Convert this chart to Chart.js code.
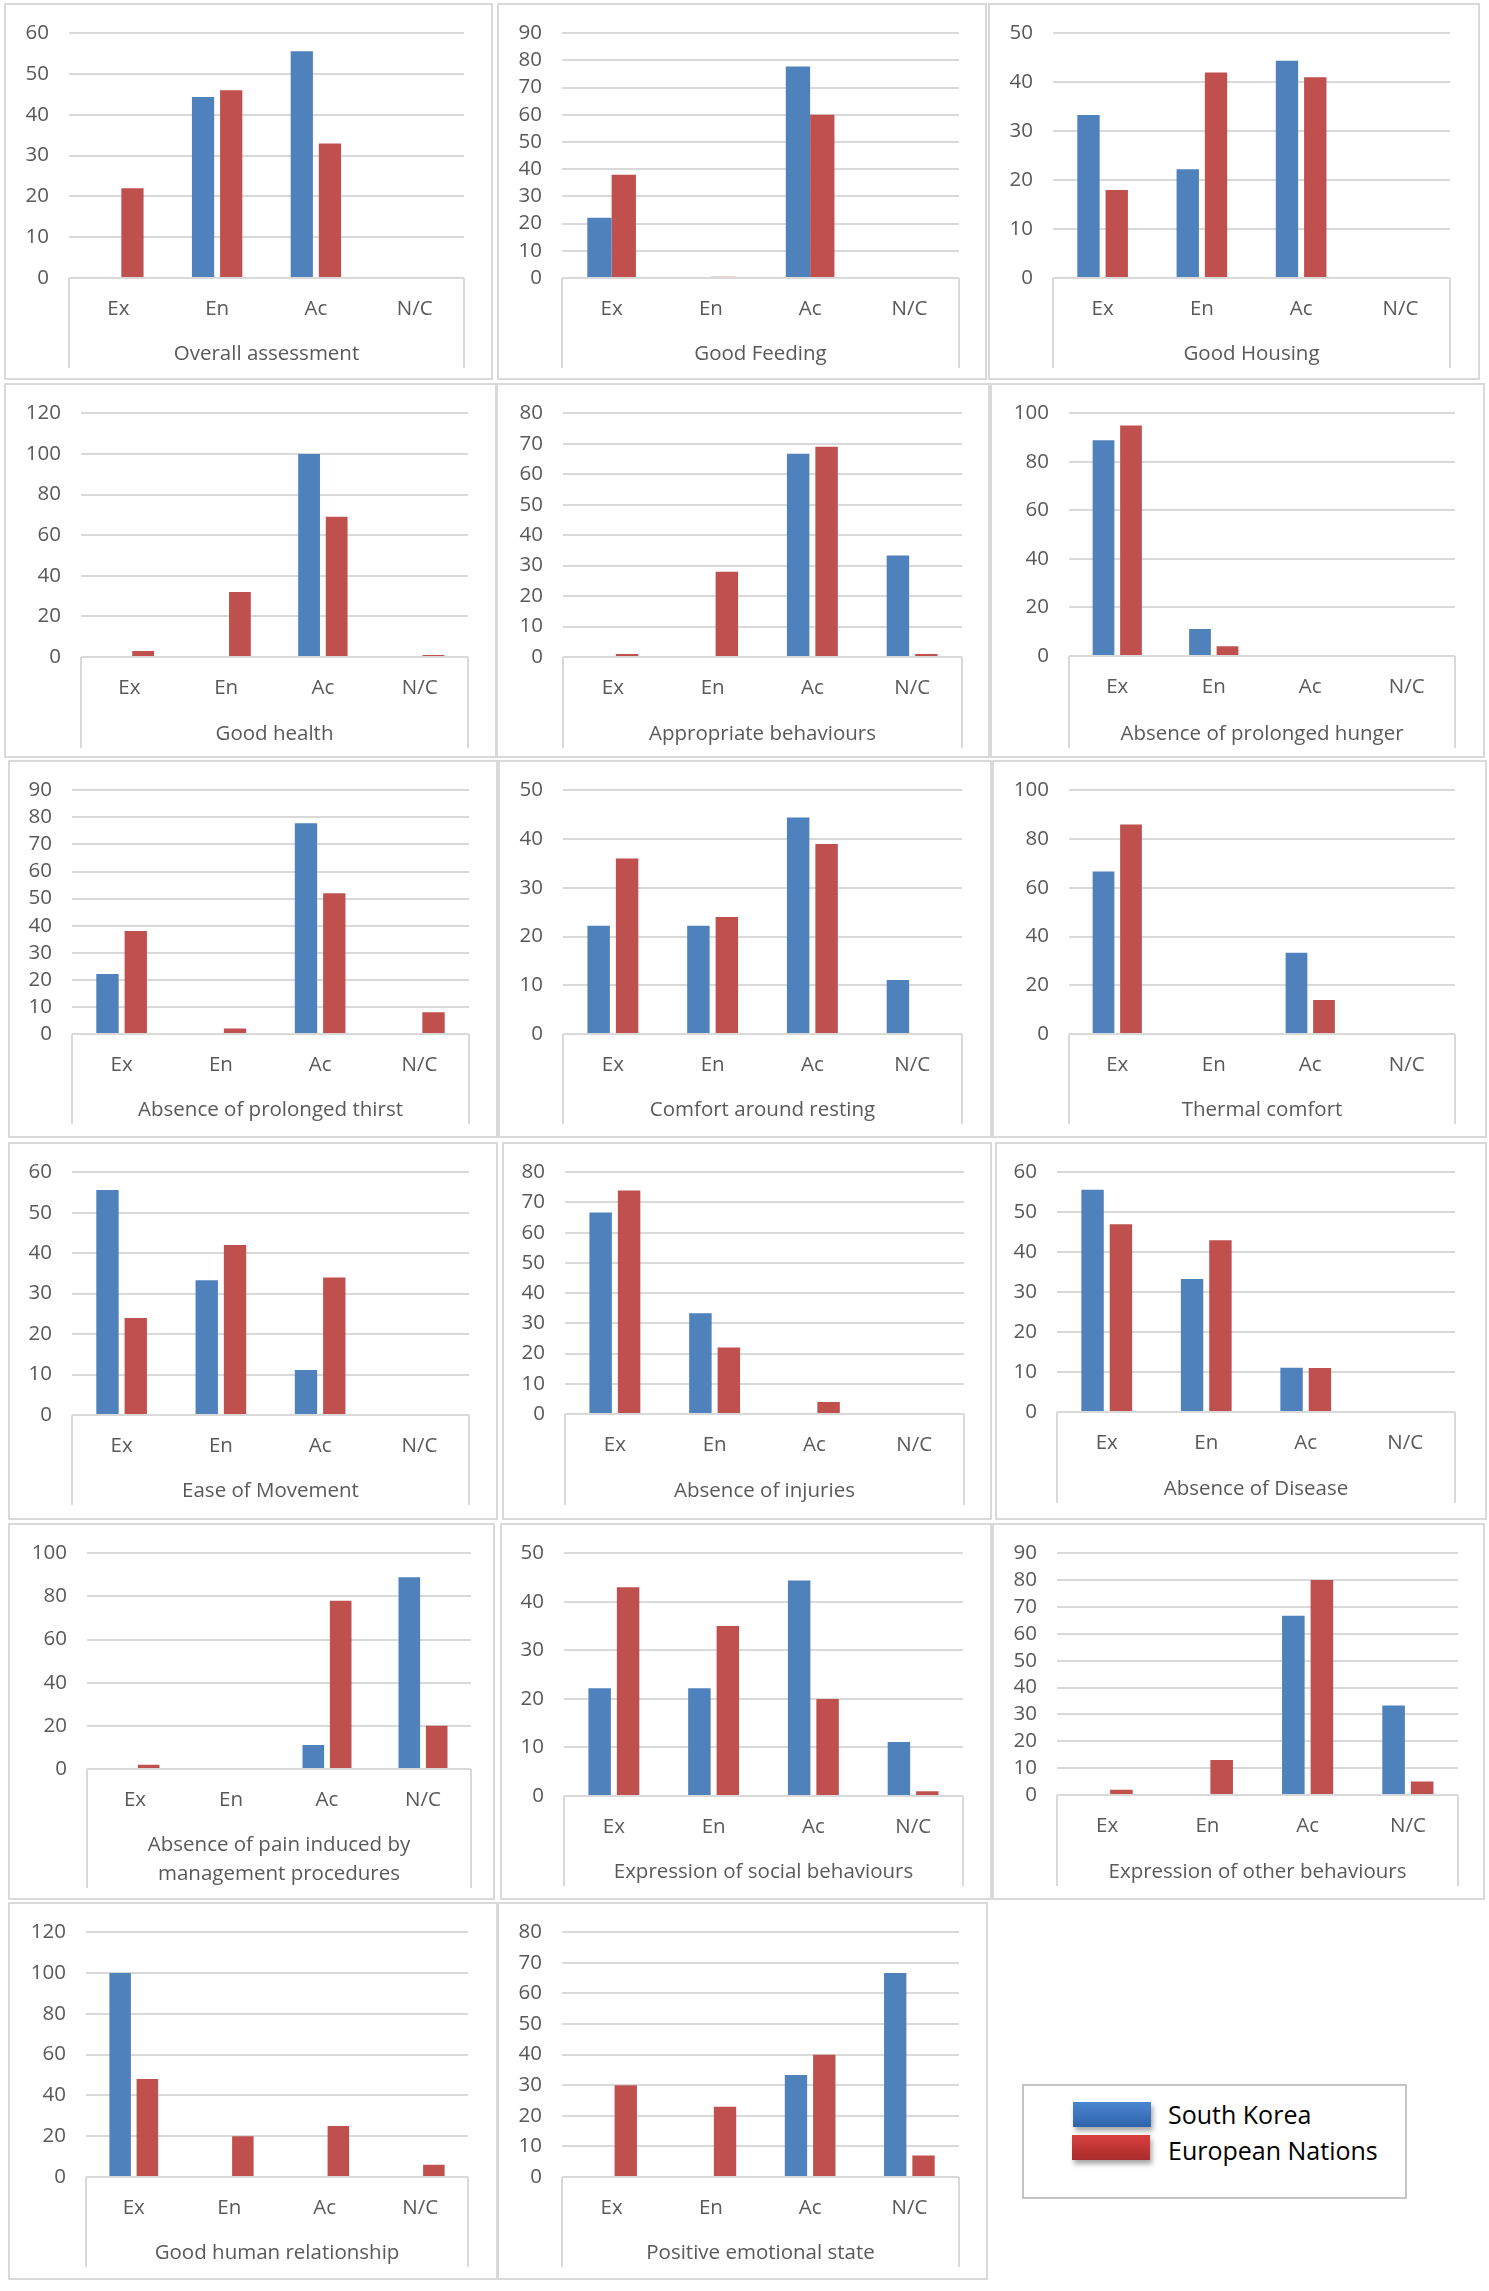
<!DOCTYPE html>
<html>
<head>
<meta charset="utf-8">
<script src="https://cdn.jsdelivr.net/npm/chart.js@4.4.1/dist/chart.umd.min.js"></script>
<style>
body { margin:0; background:#fff; width:1489px; height:2291px; position:relative; overflow:hidden; font-family:"Open Sans", sans-serif; }
.frame { position:absolute; box-sizing:border-box; border:2px solid #d9d9d9; }
canvas.panel { position:absolute; }
#legend { position:absolute; left:1022px; top:2084px; width:385px; height:115px; box-sizing:border-box; border:2px solid #c4c4c4; background:#fff; }
#legend .sw { position:absolute; width:78px; height:25px; box-shadow:2px 4px 5px rgba(0,0,0,0.35); }
#legend .lb { position:absolute; left:144px; font-size:25px; line-height:30px; color:#000; }
</style>
</head>
<body>
<div id="legend">
  <div class="sw" style="left:49px;top:16px;background:linear-gradient(#4a86d0,#2f64ac);"></div>
  <div class="lb" style="top:13px;">South Korea</div>
  <div class="sw" style="left:48px;top:49px;background:linear-gradient(#d8403f,#a92b2b);"></div>
  <div class="lb" style="top:49px;">European Nations</div>
</div>
<script>
// data
var categories = ["Ex", "En", "Ac", "N/C"];

var titles = [
  "Overall assessment", "Good Feeding", "Good Housing",
  "Good health", "Appropriate behaviours", "Absence of prolonged hunger",
  "Absence of prolonged thirst", "Comfort around resting", "Thermal comfort",
  "Ease of Movement", "Absence of injuries", "Absence of Disease",
  ["Absence of pain induced by", "management procedures"], "Expression of social behaviours", "Expression of other behaviours",
  "Good human relationship", "Positive emotional state"
];

var southKorea = [
  [0, 44.4, 55.6, 0], [22.2, 0, 77.8, 0], [33.3, 22.2, 44.4, 0],
  [0, 0, 100, 0], [0, 0, 66.7, 33.3], [88.9, 11.1, 0, 0],
  [22.2, 0, 77.8, 0], [22.2, 22.2, 44.4, 11.1], [66.7, 0, 33.3, 0],
  [55.6, 33.3, 11.1, 0], [66.7, 33.3, 0, 0], [55.6, 33.3, 11.1, 0],
  [0, 0, 11.1, 88.9], [22.2, 22.2, 44.4, 11.1], [0, 0, 66.7, 33.3],
  [100, 0, 0, 0], [0, 0, 33.3, 66.7]
];

var european = [
  [22, 46, 33, 0], [38, 0.5, 60, 0], [18, 42, 41, 0],
  [3, 32, 69, 1], [1, 28, 69, 1], [95, 4, 0, 0],
  [38, 2, 52, 8], [36, 24, 39, 0], [86, 0, 14, 0],
  [24, 42, 34, 0], [74, 22, 4, 0], [47, 43, 11, 0],
  [2, 0, 78, 20], [43, 35, 20, 1], [2, 13, 80, 5],
  [48, 20, 25, 6], [30, 23, 40, 7]
];

var axisMax = [60, 90, 50, 120, 80, 100, 90, 50, 100, 60, 80, 60, 100, 50, 90, 120, 80];
var axisStep = [10, 10, 10, 20, 10, 20, 10, 10, 20, 10, 10, 10, 20, 10, 10, 20, 10];

// layout: panel left, top, right, bottom, plot left, plot right, plot top, zero line, category box bottom
var boxes = [
  [4, 3, 493, 380, 69, 464, 32, 278, 368],
  [497, 3, 987, 380, 562, 959, 32, 278, 368],
  [988, 3, 1480, 380, 1053, 1450, 32, 278, 368],
  [4, 383, 497, 758, 81, 468, 410, 657, 748],
  [496, 383, 990, 758, 563, 962, 410, 657, 748],
  [990, 383, 1485, 758, 1069, 1455, 408, 656, 748],
  [8, 760, 498, 1138, 72, 469, 787, 1034, 1124],
  [498, 760, 992, 1138, 563, 962, 788, 1034, 1124],
  [992, 760, 1487, 1138, 1069, 1455, 788, 1034, 1124],
  [8, 1142, 498, 1520, 72, 469, 1170, 1415, 1505],
  [502, 1142, 992, 1520, 565, 964, 1169, 1414, 1505],
  [995, 1142, 1487, 1520, 1057, 1455, 1167, 1412, 1503],
  [8, 1523, 495, 1900, 87, 471, 1552, 1769, 1888],
  [500, 1523, 992, 1900, 564, 963, 1549, 1796, 1886],
  [992, 1523, 1485, 1900, 1057, 1458, 1548, 1795, 1886],
  [8, 1902, 498, 2280, 86, 468, 1929, 2177, 2267],
  [497, 1902, 988, 2280, 562, 959, 1930, 2177, 2267]
];

var textGray = "#595959";
var gridGray = "#d9d9d9";
var fontSize = 20.5;

// vertical edges of the category axis box
var catBox = {
  id: "catBox",
  afterDraw: function(chart){
    var x = chart.scales.x;
    var ctx = chart.ctx;
    ctx.save();
    ctx.strokeStyle = gridGray;
    ctx.lineWidth = 2;
    ctx.beginPath();
    ctx.moveTo(x.left, x.top);
    ctx.lineTo(x.left, x.bottom);
    ctx.moveTo(x.right, x.top);
    ctx.lineTo(x.right, x.bottom);
    ctx.stroke();
    ctx.restore();
  }
};

for (var i = 0; i < titles.length; i++) {
  (function(i){
    var b = boxes[i];
    var w = b[2] - b[0], h = b[3] - b[1];

    var frame = document.createElement("div");
    frame.className = "frame";
    frame.style.left = b[0] + "px";
    frame.style.top = b[1] + "px";
    frame.style.width = w + "px";
    frame.style.height = h + "px";
    document.body.appendChild(frame);

    var canvas = document.createElement("canvas");
    canvas.className = "panel";
    canvas.width = w;
    canvas.height = h;
    canvas.style.left = b[0] + "px";
    canvas.style.top = b[1] + "px";
    document.body.appendChild(canvas);

    // Good Feeding bars touch each other
    var catPct = i == 1 ? 0.49 : 0.57;
    var barPct = i == 1 ? 1.0 : 0.79;

    new Chart(canvas, {
      type: "bar",
      data: {
        labels: categories,
        datasets: [
          { label: "South Korea", data: southKorea[i], backgroundColor: "#4f81bd",
            categoryPercentage: catPct, barPercentage: barPct },
          { label: "European Nations", data: european[i], backgroundColor: "#c0504d",
            categoryPercentage: catPct, barPercentage: barPct }
        ]
      },
      options: {
        responsive: false,
        animation: false,
        layout: { padding: { left: 0, right: b[2] - b[5], top: b[6] - b[1], bottom: b[3] - b[8] } },
        plugins: { legend: { display: false }, tooltip: { enabled: false } },
        scales: {
          x: {
            grid: { display: false, drawTicks: false },
            border: { display: false },
            ticks: { color: textGray, font: { family: "Open Sans", size: fontSize }, padding: 19 },
            title: { display: true, text: titles[i], color: textGray,
                     font: { family: "Open Sans", size: fontSize, lineHeight: 1.38 }, padding: { top: 0, bottom: 0 } },
            afterFit: function(s){ s.height = b[8] - b[7]; }
          },
          y: {
            min: 0,
            max: axisMax[i],
            grid: { color: gridGray, lineWidth: 2, drawTicks: false },
            border: { display: false },
            ticks: { stepSize: axisStep[i], maxTicksLimit: 20, autoSkip: false, color: textGray,
                     font: { family: "Open Sans", size: fontSize, lineHeight: 1.0 }, padding: 20 },
            afterFit: function(s){ s.width = b[4] - b[0]; }
          }
        }
      },
      plugins: [catBox]
    });
  })(i);
}
</script>
</body>
</html>
